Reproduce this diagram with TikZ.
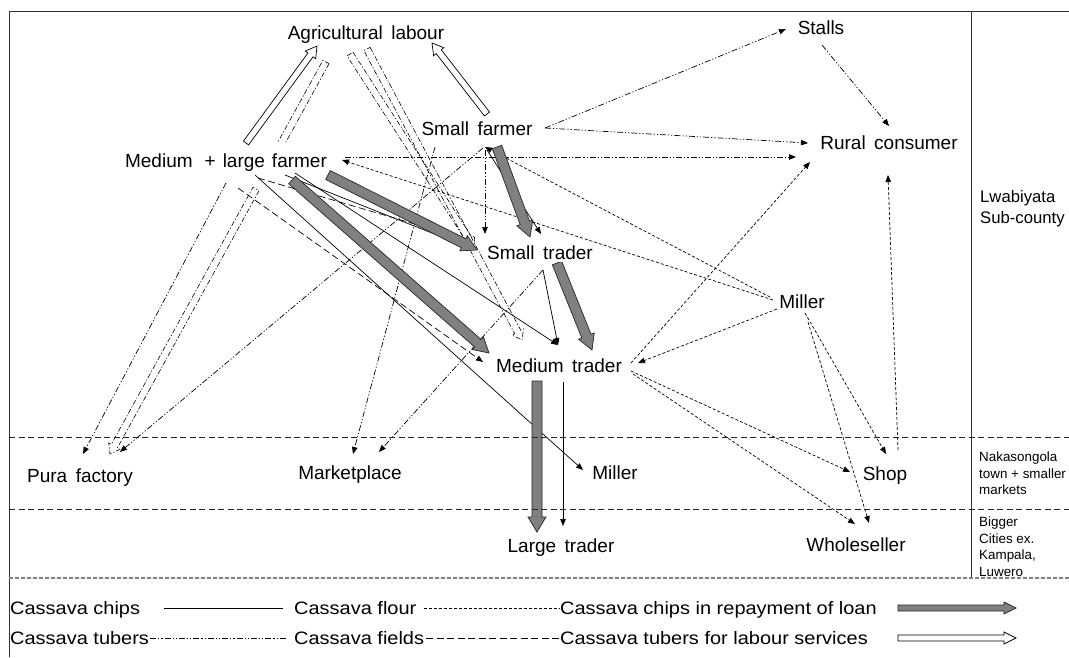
\documentclass[tikz,border=0pt]{standalone}
\usepackage{fontspec}
\setmainfont{Liberation Sans}
\newfontfamily\legfont[FakeStretch=1.11]{Liberation Sans}
\usetikzlibrary{arrows.meta}
\pgfdeclarelayer{background}
\pgfsetlayers{background,main}
\definecolor{arrgray}{RGB}{128,128,128}
\newcommand\labfont{\fontsize{19}{22}\selectfont\spaceskip=8.5pt\relax}
\newcommand\sidefont{\fontsize{16.7}{21}\selectfont}
\newcommand\smallside{\fontsize{13.4}{16.4}\selectfont}
\newcommand\legendfont{\legfont\fontsize{18}{21}\selectfont}
\newcommand\blockarr[6]{%
  \path #2; \pgfgetlastxy{\baXa}{\baYa}%
  \path #3; \pgfgetlastxy{\baXb}{\baYb}%
  \pgfmathsetmacro\baAng{atan2((\baYb)-(\baYa),(\baXb)-(\baXa))}%
  \pgfmathsetmacro\baLen{veclen((\baXb)-(\baXa),(\baYb)-(\baYa))}%
  \pgfmathsetmacro\baNeck{\baLen-#6}%
  \path[#1,shift={(\baXa,\baYa)},rotate=\baAng] (0,-#4) -- (\baNeck,-#4) -- (\baNeck,-#5) -- (\baLen,0) -- (\baNeck,#5) -- (\baNeck,#4) -- (0,#4) -- cycle;%
}
\tikzset{
  lab/.style={font=\labfont, fill=white, inner xsep=1pt, inner ysep=2pt, text height=13.6pt, text depth=0pt},
  leg/.style={font=\legendfont, inner sep=0pt, anchor=west, text height=12.9pt, text depth=0pt},
  arrtip/.style={-{Triangle[length=7pt,width=5.5pt]}},
  chips/.style={arrtip, line width=0.7pt},
  flour/.style={arrtip, line width=0.7pt, dash pattern=on 3pt off 2pt},
  tubers/.style={arrtip, line width=0.7pt, dash pattern=on 6pt off 2pt on 1.2pt off 2pt on 1.2pt off 2pt},
  fields/.style={arrtip, line width=0.7pt, dash pattern=on 7pt off 3.5pt},
  loan/.style={fill=arrgray, draw=black!85, line width=0.7pt},
  labour/.style={fill=white, draw=black, line width=0.7pt},
  pair/.style={draw=black, line width=0.6pt, dash pattern=on 5pt off 2pt on 1.2pt off 2pt},
  sep/.style={black!85, line width=0.8pt, dash pattern=on 6pt off 3.5pt},
}
\begin{document}
\begin{tikzpicture}[x=1pt,y=-1pt]
\useasboundingbox (0,0) rectangle (1069,657);
% frame
\draw[line width=0.9pt, black!80] (9,657) -- (9,11) -- (1069,11);
\draw[line width=0.9pt, black!80] (971,11) -- (971,578);
\draw[sep] (9,437) -- (1069,437);
\draw[sep] (9,509) -- (1069,509);
\draw[gray, line width=1.3pt, dash pattern=on 4pt off 2pt] (9,578) -- (1069,578);

% nodes
\node[lab] (ag) at (366,33) {Agricultural labour};
\node[lab] (stalls) at (821,28) {Stalls};
\node[lab] (sf) at (477,129) {Small farmer};
\node[lab] (rc) at (889,143) {Rural consumer};
\node[lab] (ml) at (226,161) {Medium\hspace{12pt}+\hspace{7pt}large\hspace{7pt}farmer};
\node[lab] (st) at (540,253) {Small trader};
\node[lab] (mr) at (802,302) {Miller};
\node[lab] (mt) at (559,366) {Medium trader};
\node[lab] (pura) at (80,476) {Pura factory};
\node[lab] (mkt) at (350,473) {Marketplace};
\node[lab] (mb) at (615,473) {Miller};
\node[lab] (shop) at (885,474) {Shop};
\node[lab] (lt) at (561,546) {Large trader};
\node[lab] (ws) at (856,545) {Wholeseller};

\node[font=\sidefont, anchor=north west, align=left, inner sep=0pt] (lw) at (980,190) {Lwabiyata\\Sub-county};
\node[font=\smallside, anchor=north west, align=left, inner sep=0pt] (nk) at (979,452) {Nakasongola\\town + smaller\\markets};
\node[font=\smallside, anchor=north west, align=left, inner sep=0pt] (bg) at (979,517) {Bigger\\Cities ex.\\Kampala,\\Luwero};

% legend
\node[leg] (l1) at (10,608) {Cassava chips};
\node[leg] (l2) at (294,608) {Cassava flour};
\node[leg] (l3) at (560,608) {Cassava chips in repayment of loan};
\node[leg] (l4) at (10,638) {Cassava tubers};
\node[leg] (l5) at (294,638) {Cassava fields};
\node[leg] (l6) at (560,638) {Cassava tubers for labour services};
\coordinate (a1s) at (898,608);
\coordinate (a1e) at (1016,608);
\coordinate (a2s) at (898,638);
\coordinate (a2e) at (1016,638);

\begin{pgfonlayer}{background}
% legend samples
\draw[line width=0.7pt] ([xshift=24pt]l1.east) -- ([xshift=-11pt]l2.west);
\draw[line width=0.7pt, dash pattern=on 3pt off 2pt] ([xshift=7pt]l2.east) -- ([xshift=-1pt]l3.west);
\draw[line width=0.7pt, dash pattern=on 6pt off 2pt on 1.2pt off 2pt on 1.2pt off 2pt] ([xshift=1pt]l4.east) -- ([xshift=-8pt]l5.west);
\draw[line width=0.7pt, dash pattern=on 7pt off 3.5pt] ([xshift=2pt]l5.east) -- ([xshift=-1pt]l6.west);
\blockarr{loan}{(a1s)}{(a1e)}{3}{6}{12}
\blockarr{labour}{(a2s)}{(a2e)}{3}{6}{12}

% labour services (white block arrows)
\blockarr{labour}{([shift={(20,-18)}]ml.center)}{([shift={(-49,13)}]ag.center)}{3.2}{6.5}{11}
\blockarr{labour}{([shift={(10,-15)}]sf.center)}{([shift={(66,10)}]ag.center)}{3.2}{6.5}{11}

% hollow dash-dot pairs
\begin{scope}
  \clip (0,0) rectangle (1069,141);
  \blockarr{pair}{([shift={(-40,29)}]ag.center)}{([shift={(30,-22)}]pura.center)}{3.5}{6.5}{9}
\end{scope}
\blockarr{pair}{([shift={(30,28)}]ml.center)}{([shift={(30,-22)}]pura.center)}{3.5}{6.5}{9}
\blockarr{pair}{([shift={(-16,21)}]ag.center)}{([shift={(-66,-6)}]st.center)}{3.5}{6.5}{9}
\blockarr{pair}{([shift={(1,16)}]ag.center)}{([shift={(-37,-26)}]mt.center)}{3.5}{6.5}{9}

% tubers
\draw[tubers] ([shift={(68,-1)}]sf.center) -- ([shift={(-35,1)}]stalls.center);
\draw[tubers] ([shift={(68,-1)}]sf.center) -- ([shift={(-81,0)}]rc.center);
\draw[tubers] ([shift={(119,-4)}]ml.center) -- ([shift={(-93,14)}]rc.center);
\draw[tubers] ([shift={(1,17)}]stalls.center) -- ([shift={(0,-17)}]rc.center);
\draw[tubers] ([shift={(0,22)}]ml.center) -- ([shift={(3,-22)}]pura.center);
\draw[tubers] ([shift={(6,19)}]sf.center) -- ([shift={(40,-24)}]pura.center);
\draw[tubers] ([shift={(-42,18)}]sf.center) -- ([shift={(3,-19)}]mkt.center);
\draw[tubers] ([shift={(3,17)}]st.center) -- ([shift={(29,-21)}]mkt.center);
\draw[tubers] ([shift={(8,21)}]sf.center) -- ([shift={(-55,-19)}]st.center);

% flour
\draw[flour] ([shift={(-29,-2)}]mr.center) -- ([shift={(116,-1)}]ml.center);
\draw[flour] ([shift={(-32,-5)}]mr.center) -- ([shift={(8,18)}]sf.center);
\draw[flour] ([shift={(-25,7)}]mr.center) -- ([shift={(79,-3)}]mt.center);
\draw[flour] ([shift={(3,11)}]mr.center) -- ([shift={(1,-20)}]shop.center);
\draw[flour] ([shift={(6,20)}]mr.center) -- ([shift={(13,-22)}]ws.center);
\draw[flour] ([shift={(72,-3)}]mt.center) -- ([shift={(-79,19)}]rc.center);
\draw[flour] ([shift={(72,5)}]mt.center) -- ([shift={(-35,-2)}]shop.center);
\draw[flour] ([shift={(74,8)}]mt.center) -- ([shift={(-1,-21)}]ws.center);
\draw[flour] ([shift={(13,-24)}]shop.center) -- ([shift={(-1,32)}]rc.center);

% chips
\draw[chips] ([shift={(10,21)}]sf.center) -- ([shift={(1,-19)}]st.center);
\draw[chips] ([shift={(59,14)}]ml.center) -- ([shift={(-70,-5)}]st.center);
\draw[chips] ([shift={(69,12)}]ml.center) -- ([shift={(-1,-21)}]mt.center);
\draw[chips] ([shift={(29,14)}]ml.center) -- ([shift={(-32,-3)}]mb.center);
\draw[chips] ([shift={(3,17)}]st.center) -- ([shift={(-1,-21)}]mt.center);
\draw[chips] ([shift={(4,16)}]mt.center) -- ([shift={(2,-20)}]lt.center);

% fields
\draw[fields] ([shift={(32,17)}]ml.center) -- ([shift={(-88,-18)}]st.center);
\draw[fields] ([shift={(12,27)}]ml.center) -- ([shift={(-76,-4)}]mt.center);

% repayment of loan (grey block arrows)
\blockarr{loan}{([shift={(102,14)}]ml.center)}{([shift={(-63,-3)}]st.center)}{5}{8.5}{15}
\blockarr{loan}{([shift={(66,19)}]ml.center)}{([shift={(-70,-13)}]mt.center)}{5}{8.5}{15}
\blockarr{loan}{([shift={(20,18)}]sf.center)}{([shift={(-10,-16)}]st.center)}{5}{8.5}{15}
\blockarr{loan}{([shift={(17,10)}]st.center)}{([shift={(33,-16)}]mt.center)}{5}{8.5}{15}
\blockarr{loan}{([shift={(-22,15)}]mt.center)}{([shift={(-24,-14)}]lt.center)}{5}{9}{15}
\end{pgfonlayer}
\end{tikzpicture}
\end{document}
